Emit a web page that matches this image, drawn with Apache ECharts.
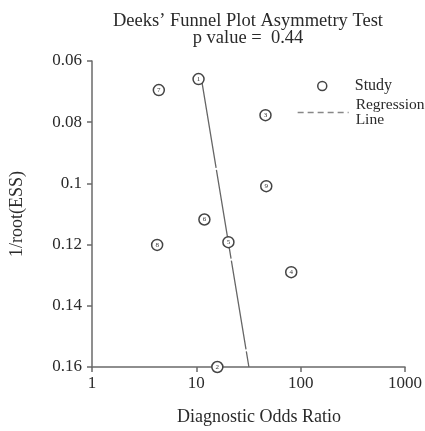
<!DOCTYPE html>
<html>
<head>
<meta charset="utf-8">
<script src="https://cdn.jsdelivr.net/npm/echarts@6/dist/echarts.min.js"></script>
<style>
  html, body { margin: 0; padding: 0; background: #fff; }
  #main { width: 425px; height: 431px; }
</style>
</head>
<body>
<div id="main"></div>
<script>
// study data
var studyIds = [1, 2, 3, 4, 5, 6, 7, 8, 9];
var dor = [10.5, 15.9, 46.0, 81.2, 20.3, 11.95, 4.37, 4.21, 46.8];
var invRootEss = [0.0659, 0.16, 0.0777, 0.129, 0.1192, 0.1118, 0.0695, 0.1201, 0.1009];

// regression line ends
var regX = [11.2, 31.9];
var regY = [0.0659, 0.16];

var yTicks = [0.06, 0.08, 0.1, 0.12, 0.14, 0.16];

var font = "Liberation Serif";
var axisGray = "#6a6a6a";

var studyData = studyIds.map(function (id, i) {
  return { value: [dor[i], invRootEss[i]], name: String(id) };
});
var regData = regX.map(function (x, i) {
  return [x, regY[i]];
});

var myChart = echarts.init(document.getElementById("main"));
var option = {
  animation: false,
  backgroundColor: "#fff",
  title: {
    text: "Deeks\u2019 Funnel Plot Asymmetry Test\np value =  0.44",
    left: 248,
    textAlign: "center",
    top: 13,
    padding: 0,
    textStyle: {
      fontFamily: font,
      fontWeight: "normal",
      fontSize: 18.5,
      lineHeight: 17,
      color: "#2a2a2a",
    },
  },
  legend: [
    {
      data: [{ name: "Study", icon: "circle" }],
      left: 317,
      top: 78,
      padding: 0,
      itemWidth: 9,
      itemHeight: 9,
      itemStyle: { color: "#fff", borderColor: "#444", borderWidth: 1.5 },
      textStyle: { fontFamily: font, fontSize: 16, color: "#2a2a2a", padding: [0, 0, 0, 23] },
    },
    {
      data: ["Regression\nLine"],
      left: 297,
      top: 97,
      padding: 0,
      itemWidth: 51,
      itemHeight: 10,
      itemStyle: { opacity: 0 },
      lineStyle: { color: "#888", width: 1.3, type: [6, 4] },
      textStyle: { fontFamily: font, fontSize: 15.5, lineHeight: 15, color: "#2a2a2a", padding: [0, 0, 0, 2] },
    },
  ],
  grid: { left: 92, right: 19, top: 61, bottom: 58 },
  xAxis: {
    type: "log",
    logBase: 10,
    min: 1,
    max: 1000,
    name: "Diagnostic Odds Ratio",
    nameLocation: "middle",
    nameGap: 41,
    nameTextStyle: { fontFamily: font, fontSize: 18, color: "#2a2a2a", padding: [0, 0, 0, 21] },
    axisLine: { lineStyle: { color: axisGray, width: 1.5 } },
    axisTick: { show: true, length: 5, lineStyle: { color: axisGray, width: 1.5 } },
    minorTick: { show: false },
    splitLine: { show: false },
    axisLabel: {
      fontFamily: font,
      fontSize: 17,
      color: "#2a2a2a",
      margin: 8,
      formatter: function (v) { return String(Math.round(v)); },
    },
  },
  yAxis: {
    type: "value",
    inverse: true,
    min: 0.06,
    max: 0.16,
    interval: 0.02,
    name: "1/root(ESS)",
    nameLocation: "middle",
    nameGap: 66,
    nameTextStyle: { fontFamily: font, fontSize: 18, color: "#2a2a2a" },
    axisLine: { show: true, lineStyle: { color: axisGray, width: 1.5 } },
    axisTick: { show: true, length: 5, lineStyle: { color: axisGray, width: 1.5 } },
    splitLine: { show: false },
    axisLabel: {
      fontFamily: font,
      fontSize: 17,
      color: "#2a2a2a",
      margin: 10,
      formatter: function (v) {
        var t = yTicks.find(function (k) { return Math.abs(k - v) < 1e-9; });
        return t === undefined ? "" : String(t);
      },
    },
  },
  series: [
    {
      name: "Regression\nLine",
      type: "line",
      data: regData,
      symbol: "none",
      z: 2,
      itemStyle: { color: "#666" },
      lineStyle: { color: "#666", width: 1.3, type: [90, 2] },
    },
    {
      name: "Study",
      type: "scatter",
      data: studyData,
      symbol: "circle",
      symbolSize: 11,
      z: 5,
      itemStyle: { color: "#fff", borderColor: "#444", borderWidth: 1.5, opacity: 1 },
      label: {
        show: true,
        position: "inside",
        formatter: "{b}",
        fontFamily: font,
        fontSize: 7,
        color: "#333",
      },
    },
  ],
};
myChart.setOption(option);
</script>
</body>
</html>
